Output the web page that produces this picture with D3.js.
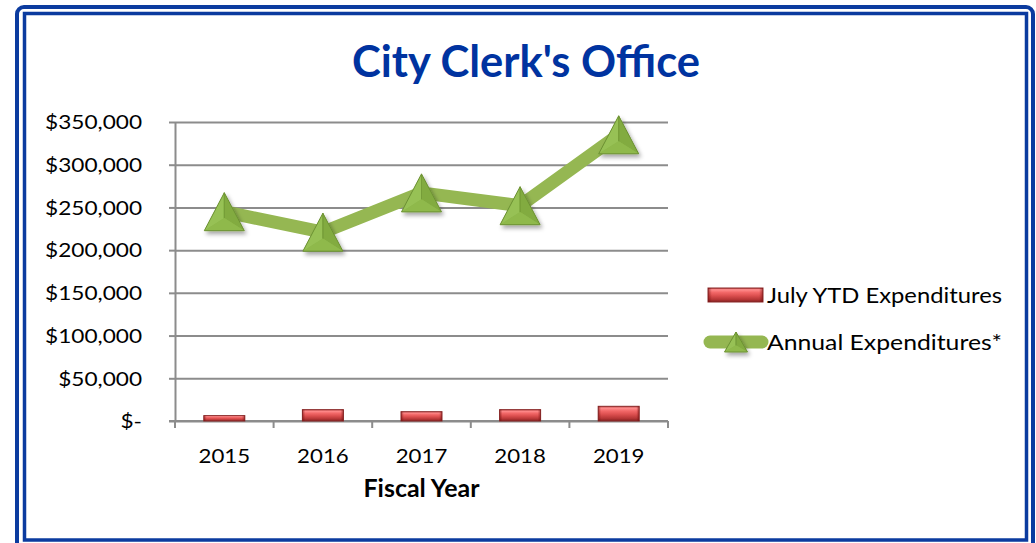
<!DOCTYPE html>
<html>
<head>
<meta charset="utf-8">
<script src="https://cdn.jsdelivr.net/npm/d3@7"></script>
<style>
  html, body { margin: 0; padding: 0; background: #fff; }
  svg { display: block; }
</style>
</head>
<body>
<svg id="chart" width="1036" height="543"></svg>
<script>
// ---- data ----
const years = ["2015", "2016", "2017", "2018", "2019"];
const julyYTD = [6300, 13300, 10900, 13300, 17200];
const annual = [245000, 221000, 267000, 252000, 335000];
const yTickValues = [0, 50000, 100000, 150000, 200000, 250000, 300000, 350000];
const seriesNames = ["July YTD Expenditures", "Annual Expenditures*"];
const chartTitle = "City Clerk's Office";
const xAxisTitle = "Fiscal Year";

// ---- layout ----
const W = 1036, H = 543;
const plot = { left: 175, right: 668, top: 122, bottom: 421 };
const FONT = "Lato, 'Open Sans', 'Liberation Sans', sans-serif";
const BLUE = "#0b3b9f";
const GRID = "#8c8c8c";
const LINE_GREEN = "#95b752";

const svg = d3.select("#chart");

// widen glyphs horizontally by factor k
function stretch(sel, k) {
  sel.each(function () {
    const L = this.getComputedTextLength();
    d3.select(this).attr("textLength", L * k).attr("lengthAdjust", "spacingAndGlyphs");
  });
}
// set glyph run to an exact width
function fitTo(sel, w) {
  sel.attr("textLength", w).attr("lengthAdjust", "spacingAndGlyphs");
}

// ---- defs: gradients and shadow ----
const defs = svg.append("defs");
const barGrad = defs.append("linearGradient").attr("id", "barGrad")
  .attr("x1", 0).attr("y1", 0).attr("x2", 0).attr("y2", 1);
[["0%", "#b43c3c"], ["12%", "#ff8e8e"], ["32%", "#f26868"], ["55%", "#dc4f4f"], ["82%", "#b53636"], ["100%", "#842020"]]
  .forEach(([o, c]) => barGrad.append("stop").attr("offset", o).attr("stop-color", c));
const barEdge = defs.append("linearGradient").attr("id", "barEdge")
  .attr("x1", 0).attr("y1", 0).attr("x2", 1).attr("y2", 0);
[["0%", "rgba(110,10,10,0.55)"], ["7%", "rgba(110,10,10,0)"], ["93%", "rgba(110,10,10,0)"], ["100%", "rgba(110,10,10,0.55)"]]
  .forEach(([o, c]) => barEdge.append("stop").attr("offset", o).attr("stop-color", c));

const shadow = defs.append("filter").attr("id", "shadow")
  .attr("x", "-30%").attr("y", "-30%").attr("width", "170%").attr("height", "170%");
shadow.append("feDropShadow").attr("dx", 2).attr("dy", 3).attr("stdDeviation", 2.2)
  .attr("flood-color", "#000").attr("flood-opacity", 0.35);

// ---- frame ----
svg.append("rect").attr("x", 17).attr("y", 7).attr("width", 1016).attr("height", 570)
  .attr("rx", 7).attr("fill", "#fff").attr("stroke", BLUE).attr("stroke-width", 4);
svg.append("rect").attr("x", 24.5).attr("y", 13.5).attr("width", 1002).attr("height", 526.5)
  .attr("fill", "none").attr("stroke", BLUE).attr("stroke-width", 3.5);

// ---- scales ----
const x = d3.scaleBand().domain(years).range([plot.left, plot.right])
  .paddingInner(0.584).paddingOuter(0.292);
const y = d3.scaleLinear().domain([0, 350000]).range([plot.bottom, plot.top]);
const cx = d => x(d) + x.bandwidth() / 2;

// ---- gridlines ----
const grid = svg.append("g").attr("transform", `translate(${plot.left},0)`)
  .call(d3.axisLeft(y).tickValues(yTickValues).tickSize(-(plot.right - plot.left)).tickFormat(""));
grid.select(".domain").remove();
grid.selectAll("line").attr("stroke", GRID).attr("stroke-width", 2);

// ---- y axis ----
const fmt = d => d === 0 ? "$-" : "$" + d3.format(",")(d);
const yAxis = svg.append("g").attr("transform", `translate(${plot.left},0)`)
  .call(d3.axisLeft(y).tickValues(yTickValues).tickSize(6).tickPadding(27).tickFormat(fmt).tickSizeOuter(0));
yAxis.select(".domain").attr("stroke", GRID).attr("stroke-width", 2);
yAxis.selectAll("line").attr("stroke", GRID).attr("stroke-width", 2);
yAxis.selectAll("text").attr("fill", "#000").style("font-family", FONT).style("font-size", "19px")
  .attr("dy", "0.36em");
stretch(yAxis.selectAll("text"), 1.19);

// ---- x axis ----
const xAxis = svg.append("g").attr("transform", `translate(0,${plot.bottom})`)
  .call(d3.axisBottom(x).tickSize(0).tickPadding(0).tickSizeOuter(0));
xAxis.select(".domain").remove();
xAxis.append("line").attr("x1", plot.left - 6).attr("x2", plot.right).attr("y1", 0).attr("y2", 0)
  .attr("stroke", GRID).attr("stroke-width", 2);
const boundaries = years.map(d => x(d) - x.step() * x.paddingInner() / 2).concat([plot.right]);
xAxis.selectAll(".bound").data(boundaries).join("line").attr("class", "bound")
  .attr("x1", d => d).attr("x2", d => d).attr("y1", 0).attr("y2", 7)
  .attr("stroke", GRID).attr("stroke-width", 2);
xAxis.selectAll(".tick text").attr("fill", "#000").style("font-family", FONT).style("font-size", "19px")
  .attr("y", 42).attr("dy", 0);
stretch(xAxis.selectAll(".tick text"), 1.17);

// ---- bars ----
const bars = svg.append("g");
bars.selectAll(".bar").data(years).join("rect").attr("class", "bar")
  .attr("x", d => x(d)).attr("width", x.bandwidth())
  .attr("y", (d, i) => y(julyYTD[i])).attr("height", (d, i) => y(0) - y(julyYTD[i]))
  .attr("fill", "url(#barGrad)").attr("stroke", "#8b2b2b").attr("stroke-width", 1);
bars.selectAll(".edge").data(years).join("rect").attr("class", "edge")
  .attr("x", d => x(d)).attr("width", x.bandwidth())
  .attr("y", (d, i) => y(julyYTD[i])).attr("height", (d, i) => y(0) - y(julyYTD[i]))
  .attr("fill", "url(#barEdge)");

// ---- line ----
const line = d3.line().x((d, i) => cx(years[i])).y(d => y(d));
svg.append("path").datum(annual).attr("d", line).attr("fill", "none")
  .attr("stroke", LINE_GREEN).attr("stroke-width", 13).attr("stroke-linejoin", "round");

// pyramid-style triangle marker
function triangle(g, px, py, w, h) {
  const top = [px, py - h / 2], bl = [px - w / 2, py + h / 2], br = [px + w / 2, py + h / 2];
  const c = [px, py + h / 6];
  const poly = pts => "M" + pts.map(p => p.join(",")).join("L") + "Z";
  const m = g.append("g").attr("filter", "url(#shadow)");
  m.append("path").attr("d", poly([top, bl, br])).attr("fill", "#8cb649");
  m.append("path").attr("d", poly([top, bl, c])).attr("fill", "#97c155");
  m.append("path").attr("d", poly([top, br, c])).attr("fill", "#82ab40");
  m.append("path").attr("d", poly([bl, br, c])).attr("fill", "#8fb94c");
  m.append("path").attr("d", poly([top, c])).attr("stroke", "#759c37").attr("stroke-width", 0.8).attr("fill", "none");
  m.append("path").attr("d", poly([top, bl, br])).attr("fill", "none")
    .attr("stroke", "#6c9133").attr("stroke-width", 1);
}
const markers = svg.append("g");
annual.forEach((v, i) => triangle(markers, cx(years[i]), y(v), 40, 38));

// ---- titles ----
const t = svg.append("text").attr("x", 526).attr("y", 77).attr("text-anchor", "middle")
  .attr("fill", "#0033a0").style("font-family", FONT).style("font-weight", 700).style("font-size", "44px")
  .text(chartTitle);
fitTo(t, 348);

const xt = svg.append("text").attr("x", (plot.left + plot.right) / 2).attr("y", 497).attr("text-anchor", "middle")
  .attr("fill", "#000").style("font-family", FONT).style("font-weight", 700).style("font-size", "25px")
  .text(xAxisTitle);
fitTo(xt, 116);

// ---- legend ----
const legend = svg.append("g");
const lgX = 708, lgText = 767, rows = [295, 342];
legend.append("rect").attr("x", lgX).attr("y", rows[0] - 7).attr("width", 55).attr("height", 14)
  .attr("fill", "url(#barGrad)").attr("stroke", "#8b2b2b").attr("stroke-width", 1);
legend.append("rect").attr("x", lgX).attr("y", rows[0] - 7).attr("width", 55).attr("height", 14)
  .attr("fill", "url(#barEdge)");
legend.append("line").attr("x1", 710).attr("x2", 762).attr("y1", rows[1]).attr("y2", rows[1])
  .attr("stroke", LINE_GREEN).attr("stroke-width", 13).attr("stroke-linecap", "round");
triangle(legend, 736, rows[1], 23, 20);
legend.selectAll(".lt").data(seriesNames).join("text").attr("class", "lt")
  .attr("x", lgText).attr("y", (d, i) => rows[i] + 7.6)
  .attr("fill", "#000").style("font-family", FONT).style("font-size", "21.3px")
  .text(d => d);
fitTo(legend.selectAll(".lt"), 235);
</script>
</body>
</html>
